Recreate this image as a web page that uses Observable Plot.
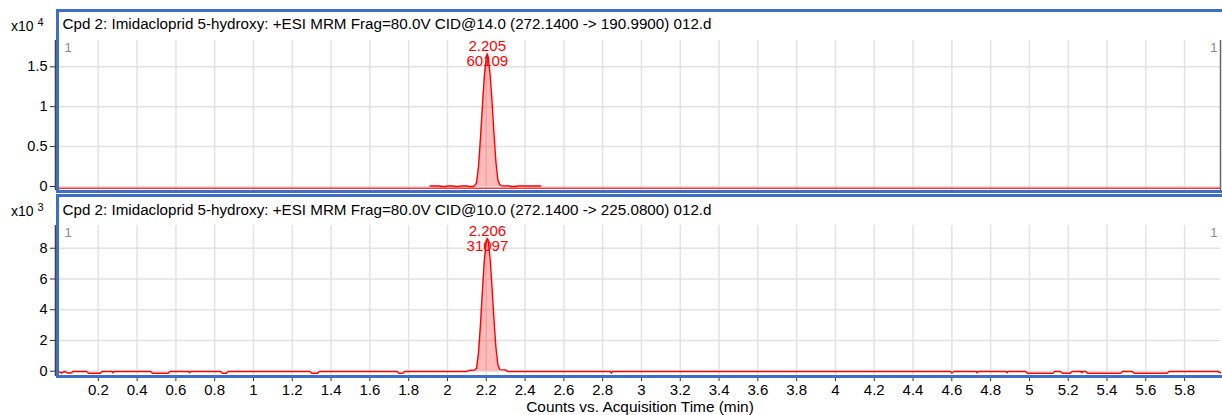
<!DOCTYPE html>
<html><head><meta charset="utf-8">
<script src="https://cdn.jsdelivr.net/npm/d3@7"></script>
<script src="https://cdn.jsdelivr.net/npm/@observablehq/plot@0.6"></script>
<style>
body{margin:0;background:#fff;font-family:"Liberation Sans",Arial,sans-serif;}
#wrap{position:relative;width:1222px;height:415px;overflow:hidden;background:#fff;}
.panel{position:absolute;left:0;}
.frame{position:absolute;border:3px solid #3d6fc7;box-sizing:border-box;pointer-events:none;}
.exp{position:absolute;left:11px;font-size:14px;line-height:16px;color:#000;}
.exp span{font-size:11px;position:relative;top:-5px;margin-left:4px;}
</style></head><body><div id="wrap"></div>
<script>
// ---------- data ----------
const xDomain = [0, 5.985];
const xTicks = [0.2,0.4,0.6,0.8,1,1.2,1.4,1.6,1.8,2,2.2,2.4,2.6,2.8,3,3.2,3.4,3.6,3.8,4,4.2,4.4,4.6,4.8,5,5.2,5.4,5.6,5.8];
const xLabel = "Counts vs. Acquisition Time (min)";

const titles = [
  "Cpd 2: Imidacloprid 5-hydroxy: +ESI MRM Frag=80.0V CID@14.0 (272.1400 -> 190.9900) 012.d",
  "Cpd 2: Imidacloprid 5-hydroxy: +ESI MRM Frag=80.0V CID@10.0 (272.1400 -> 225.0800) 012.d"
];
const exponents = ["4", "3"];
const peakRT = ["2.205", "2.206"];
const peakArea = ["60109", "31097"];
const peakWindow = [2.145, 2.275];

// top panel (x10^4 counts)
const topYTicks = [0, 0.5, 1, 1.5];
const topYDomain = [-0.05, 1.83];
const topBaseline = -0.022;
const topTime = [1.91,1.96,1.97,1.99,2.00,2.03,2.04,2.06,2.07,2.10,2.11,2.13,2.14,2.15,2.16,2.17,2.18,2.19,2.20,2.205,2.21,2.22,2.23,2.24,2.25,2.26,2.27,2.28,2.32,2.33,2.35,2.36,2.48];
const topCounts = [0.006,0.006,0.0,0.0,0.006,0.006,0.0,0.0,0.006,0.006,0.0,0.0,0.01,0.05,0.25,0.6,1.0,1.38,1.62,1.663,1.62,1.4,1.05,0.65,0.3,0.08,0.02,0.01,0.006,0.0,0.0,0.006,0.006];

// bottom panel (x10^3 counts)
const botYTicks = [0, 2, 4, 6, 8];
const botYDomain = [-0.345, 9.48];
const botTime = [0,0.01,0.02,0.03,0.04,0.06,0.07,0.14,0.15,0.21,0.22,0.27,0.275,0.28,0.47,0.48,0.56,0.57,0.665,0.67,0.675,0.83,0.84,0.86,0.87,1.29,1.30,1.33,1.34,1.74,1.75,1.77,1.78,2.10,2.11,2.14,2.15,2.16,2.17,2.18,2.19,2.20,2.206,2.21,2.22,2.23,2.24,2.25,2.26,2.27,2.30,2.31,2.84,2.845,2.85,4.595,4.60,4.61,4.725,4.73,4.735,4.88,4.885,4.89,4.98,4.99,5.12,5.13,5.16,5.17,5.21,5.22,5.265,5.27,5.275,5.29,5.30,5.47,5.48,5.53,5.54,5.71,5.72,5.97,5.985];
const botCounts = [-0.05,-0.13,-0.05,-0.02,-0.12,-0.12,-0.02,-0.02,-0.13,-0.13,-0.02,-0.02,-0.1,-0.02,-0.02,-0.13,-0.13,-0.02,-0.02,-0.1,-0.02,-0.02,-0.13,-0.13,-0.02,-0.02,-0.13,-0.13,-0.02,-0.02,-0.13,-0.13,-0.02,-0.02,0.05,0.08,0.2,1.2,3.0,5.2,7.2,8.5,8.63,8.5,7.3,5.4,3.3,1.5,0.4,0.1,0.08,-0.02,-0.02,-0.12,-0.02,-0.02,-0.12,-0.02,-0.02,-0.1,-0.02,-0.02,-0.1,-0.02,-0.02,-0.13,-0.13,-0.02,-0.02,-0.13,-0.13,-0.02,-0.02,-0.1,-0.02,-0.02,-0.13,-0.13,-0.02,-0.02,-0.13,-0.13,-0.02,-0.02,-0.1];

// ---------- drawing ----------
const RED = "#ff0000";
const GRID = "#e2e2e2";
const fmt = d3.format("~g");

function panel(o) {
  const data = o.time.map((t, i) => ({t, v: o.counts[i]}));
  const fillData = data.filter(d => d.t >= peakWindow[0] && d.t <= peakWindow[1]);
  const apex = d3.greatest(data, d => d.v);
  const marks = [
    Plot.gridX(xTicks, {stroke: GRID, strokeOpacity: 1, strokeWidth: 1.5}),
    Plot.gridY(o.yTicks, {stroke: GRID, strokeOpacity: 1, strokeWidth: 1.5}),
    Plot.ruleX([xDomain[0]], {dx: -4, stroke: "#444", strokeWidth: 1.6}),
    Plot.axisY(o.yTicks, {tickSize: 5, dx: -4, tickPadding: 3, fontSize: 14.5, stroke: "#333", fill: "#000", tickFormat: fmt, label: null}),
    Plot.areaY(fillData, {x: "t", y1: 0, y2: "v", fill: RED, fillOpacity: 0.27}),
  ];
  if (o.baseline !== undefined) marks.push(Plot.ruleY([o.baseline], {stroke: "#f03a3a", strokeWidth: 1.6}));
  marks.push(
    Plot.lineY(data, {x: "t", y: "v", stroke: RED, strokeWidth: 1.4}),
    Plot.text([apex], {x: "t", y: "v", text: () => o.rt + "\n" + o.area, fill: RED, fontSize: 15, lineHeight: 1, lineAnchor: "middle"}),
    Plot.text([o.title], {frameAnchor: "top-left", dx: 3, dy: o.titleDy, lineAnchor: "middle", fontSize: 15.2, fill: "#000"}),
    Plot.text(["1"], {frameAnchor: "top-left", dx: 5, dy: 7, lineAnchor: "middle", fontSize: 13, fill: "#8a8a8a"}),
    Plot.text(["1"], {frameAnchor: "top-right", dx: -3, dy: 7, lineAnchor: "middle", fontSize: 13, fill: "#8a8a8a"})
  );
  if (o.rightRule) marks.push(Plot.ruleX([xDomain[1]], {stroke: "#666", strokeWidth: 1.5}));
  if (o.showX) {
    marks.push(
      Plot.axisX(xTicks, {tickSize: 5, tickPadding: 3, fontSize: 15, stroke: "#333", fill: "#000", tickFormat: fmt, label: null}),
      Plot.text([xLabel], {frameAnchor: "bottom", dy: 31, lineAnchor: "middle", fontSize: 15.4, fill: "#000"})
    );
  }
  return Plot.plot({
    width: 1222,
    height: o.height,
    marginTop: o.marginTop,
    marginBottom: o.marginBottom,
    marginLeft: 59,
    marginRight: 2,
    x: {domain: xDomain, axis: o.showX ? undefined : null},
    y: {domain: o.yDomain},
    style: {fontFamily: "'Liberation Sans', Arial, sans-serif", fontSize: "14px", background: "transparent", overflow: "visible", color: "#000"},
    marks
  });
}

const wrap = document.getElementById("wrap");
const p1 = panel({height: 196, marginTop: 40, marginBottom: 6, yDomain: topYDomain, yTicks: topYTicks,
  time: topTime, counts: topCounts, baseline: topBaseline, title: titles[0], rt: peakRT[0], area: peakArea[0],
  titleDy: -16, rightRule: true, showX: false});
p1.classList.add("panel"); p1.style.top = "0px";
const p2 = panel({height: 219, marginTop: 29, marginBottom: 39, yDomain: botYDomain, yTicks: botYTicks,
  time: botTime, counts: botCounts, title: titles[1], rt: peakRT[1], area: peakArea[1],
  titleDy: -15, rightRule: false, showX: true});
p2.classList.add("panel"); p2.style.top = "196px";
wrap.appendChild(p1);
wrap.appendChild(p2);

function addFrame(top, height) {
  const f = document.createElement("div");
  f.className = "frame";
  f.style.left = "56px"; f.style.top = top + "px";
  f.style.width = "1200px"; f.style.height = height + "px";
  wrap.appendChild(f);
}
addFrame(9, 184);
addFrame(194, 184);

function addExp(top, e) {
  const d = document.createElement("div");
  d.className = "exp";
  d.style.top = top + "px";
  d.innerHTML = "x10<span>" + e + "</span>";
  wrap.appendChild(d);
}
addExp(18, exponents[0]);
addExp(203, exponents[1]);
</script></body></html>
